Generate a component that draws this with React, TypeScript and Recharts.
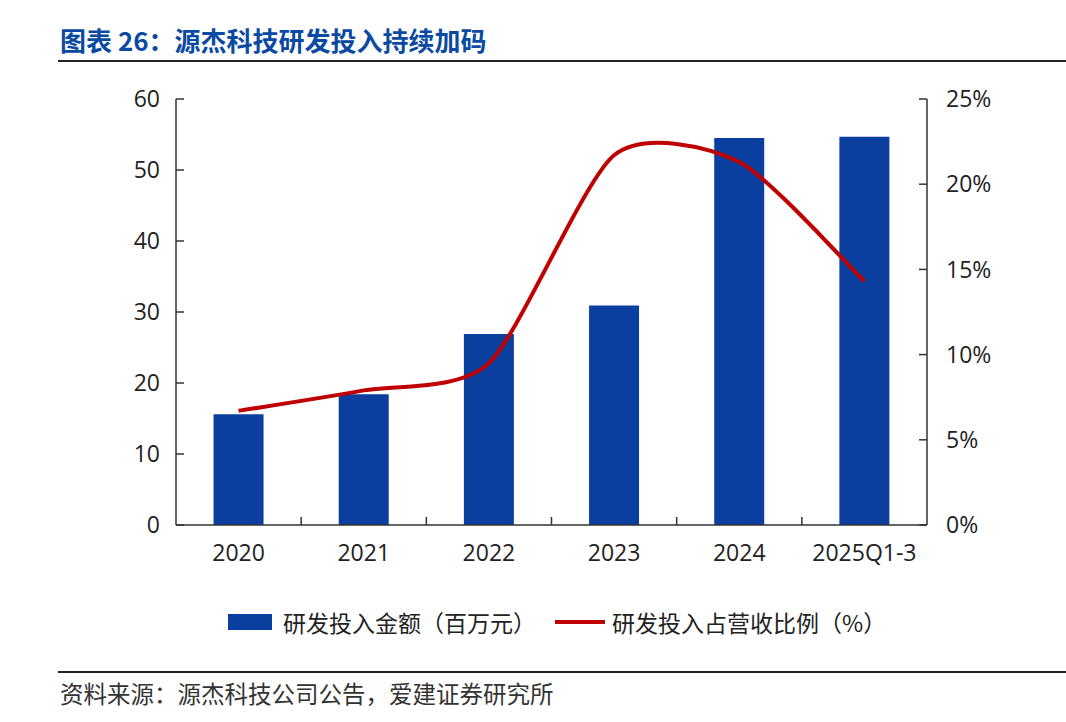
import React from 'react';
import { ComposedChart, Bar, Line, XAxis, YAxis } from 'recharts';

const categories = ['2020', '2021', '2022', '2023', '2024', '2025Q1-3'];
const rdAmount = [15.6, 18.4, 26.9, 30.9, 54.5, 54.7];
const rdRatio = [6.7, 7.9, 9.5, 21.7, 21.3, 14.3];
const leftTicks = [0, 10, 20, 30, 40, 50, 60];
const rightTicks = [0, 5, 10, 15, 20, 25];

const data = categories.map((c, i) => ({ name: c, amount: rdAmount[i], ratio: rdRatio[i] }));

const BLUE = '#0a3f9f';
const RED = '#c00000';
const AXIS = '#333';
const NUM_FONT = '"Open Sans", "Noto Sans CJK SC", sans-serif';
const CJK_FONT = '"Noto Sans CJK SC", "Noto Sans", sans-serif';

// smoothed line similar to the spreadsheet "smooth line" option
const K = 0.12;
const smoothCurve = (context: any) => {
  let pts: [number, number][] = [];
  return {
    areaStart() {},
    areaEnd() {},
    lineStart() {
      pts = [];
    },
    point(x: number, y: number) {
      pts.push([+x, +y]);
    },
    lineEnd() {
      if (!pts.length) return;
      context.moveTo(pts[0][0], pts[0][1]);
      for (let i = 0; i < pts.length - 1; i++) {
        const p0 = pts[Math.max(i - 1, 0)];
        const p1 = pts[i];
        const p2 = pts[i + 1];
        const p3 = pts[Math.min(i + 2, pts.length - 1)];
        context.bezierCurveTo(
          p1[0] + (p2[0] - p0[0]) * K,
          p1[1] + (p2[1] - p0[1]) * K,
          p2[0] - (p3[0] - p1[0]) * K,
          p2[1] - (p3[1] - p1[1]) * K,
          p2[0],
          p2[1]
        );
      }
    },
  };
};

const XTick = (props: any) => {
  const { x, y, payload, index, visibleTicksCount } = props;
  const half = payload.offset || 62.5;
  return (
    <g>
      {index < visibleTicksCount - 1 && (
        <line x1={x + half} x2={x + half} y1={y} y2={y - 8} stroke={AXIS} strokeWidth={1.5} />
      )}
      <text x={x} y={y + 36} textAnchor="middle" fill="#222" fontSize={23} fontFamily={NUM_FONT}>
        {payload.value}
      </text>
    </g>
  );
};

export default function App() {
  return (
    <div style={{ position: 'absolute', left: 0, top: 0, width: 1066, height: 722, background: '#fff', overflow: 'hidden' }}>
      <div
        style={{
          position: 'absolute',
          left: 60,
          top: 23,
          fontSize: 26,
          lineHeight: '34px',
          fontWeight: 700,
          color: '#0b4aa2',
          fontFamily: CJK_FONT,
          whiteSpace: 'nowrap',
        }}
      >
        图表 26：源杰科技研发投入持续加码
      </div>
      <div style={{ position: 'absolute', left: 58, top: 60, width: 1008, height: 2, background: '#222' }} />

      <ComposedChart
        width={1066}
        height={722}
        data={data}
        margin={{ top: 99, right: 59, bottom: 147, left: 116 }}
        barCategoryGap="30%"
        style={{ position: 'absolute', left: 0, top: 0 }}
      >
        <XAxis
          dataKey="name"
          axisLine={{ stroke: AXIS, strokeWidth: 1.5 }}
          tickLine={false}
          tickSize={0}
          tickMargin={0}
          height={50}
          tick={<XTick />}
          interval={0}
        />
        <YAxis
          yAxisId="left"
          domain={[0, 60]}
          ticks={leftTicks}
          width={60}
          axisLine={{ stroke: AXIS, strokeWidth: 1.5 }}
          tickLine={{ stroke: AXIS, strokeWidth: 1.5 }}
          tickSize={-8}
          tickMargin={24}
          tick={{ fill: '#222', fontSize: 23, fontFamily: NUM_FONT }}
        />
        <YAxis
          yAxisId="right"
          orientation="right"
          domain={[0, 25]}
          ticks={rightTicks}
          width={80}
          axisLine={{ stroke: AXIS, strokeWidth: 1.5 }}
          tickLine={{ stroke: AXIS, strokeWidth: 1.5 }}
          tickSize={-8}
          tickMargin={27}
          tickFormatter={(v: number) => `${v}%`}
          tick={{ fill: '#222', fontSize: 23, fontFamily: NUM_FONT, textAnchor: 'start' }}
        />
        <Bar yAxisId="left" dataKey="amount" fill={BLUE} isAnimationActive={false} />
        <Line
          yAxisId="right"
          dataKey="ratio"
          type={smoothCurve as any}
          stroke={RED}
          strokeWidth={4}
          dot={false}
          activeDot={false}
          isAnimationActive={false}
        />
      </ComposedChart>

      {/* legend */}
      <div style={{ position: 'absolute', left: 228, top: 614, width: 44, height: 16, background: BLUE }} />
      <div
        style={{
          position: 'absolute',
          left: 283,
          top: 606,
          fontSize: 23,
          lineHeight: '32px',
          color: '#222',
          fontFamily: CJK_FONT,
          whiteSpace: 'nowrap',
        }}
      >
        研发投入金额（百万元）
      </div>
      <div style={{ position: 'absolute', left: 555, top: 620, width: 50, height: 4, background: RED }} />
      <div
        style={{
          position: 'absolute',
          left: 612,
          top: 606,
          fontSize: 23,
          lineHeight: '32px',
          color: '#222',
          fontFamily: CJK_FONT,
          whiteSpace: 'nowrap',
        }}
      >
        研发投入占营收比例（%）
      </div>

      <div style={{ position: 'absolute', left: 58, top: 671, width: 1008, height: 2, background: '#222' }} />
      <div
        style={{
          position: 'absolute',
          left: 60,
          top: 678,
          fontSize: 23.5,
          lineHeight: '30px',
          color: '#333',
          fontFamily: CJK_FONT,
          whiteSpace: 'nowrap',
        }}
      >
        资料来源：源杰科技公司公告，爱建证券研究所
      </div>
    </div>
  );
}
